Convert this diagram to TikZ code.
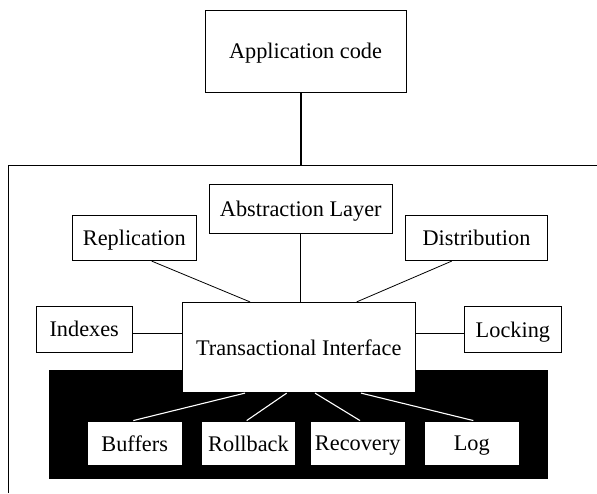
\documentclass[tikz,border=0pt]{standalone}
\usepackage{fontspec}
\setmainfont{Liberation Serif}
\begin{document}
\begin{tikzpicture}
  [x=1pt, y=-1pt,
   every node/.style={draw, fill=white, inner sep=2pt, line width=0.8pt,
                      text depth=0pt, font=\fontsize{22.3}{26}\selectfont},
   link/.style={line width=0.8pt},
   sublink/.style={white, line width=1.1pt}]
  \useasboundingbox (0,0) rectangle (597,493);
  % frame and core block
  \draw[link] (8.3,493) -- (8.3,165) -- (597,165);
  \fill[black] (49.3,370) rectangle (548,479.3);
  \coordinate (top) at (301,165);

  \node (app) [minimum width=201pt, minimum height=82pt] at (305.5,51) {Application code};
  \node (absl) [minimum width=183pt, minimum height=49.3pt] at (300.8,208.7) {Abstraction Layer};
  \node (repl) [minimum width=123.3pt, minimum height=45pt] at (134.3,238.2) {Replication};
  \node (distr) [minimum width=141.6pt, minimum height=45pt] at (476.5,238.2) {Distribution};
  \node (trans) [minimum width=232.7pt, minimum height=90.4pt] at (298.7,347.5) {Transactional Interface};
  \node (index) [minimum width=96.3pt, minimum height=46.3pt] at (84.2,329.2) {Indexes};
  \node (lock) [minimum width=96.3pt, minimum height=46pt] at (512.9,329.7) {Locking};
  \node (buf) [minimum width=94.7pt, minimum height=44.7pt] at (134.7,443.3) {Buffers};
  \node (rollb) [minimum width=94.4pt, minimum height=44.7pt] at (248.5,443.3) {Rollback};
  \node (recov) [minimum width=95.3pt, minimum height=44.7pt] at (357.7,443.3) {Recovery};
  \node (logn) [minimum width=95pt, minimum height=44.7pt] at (471.8,443.3) {Log};

  \draw[line width=2.8pt] (app.south -| top) -- (top);
  \draw[link] (absl.south) -- (absl.south |- trans.north);
  \draw[link] ([xshift=17.4pt]repl.south) -- ([xshift=-48.7pt]trans.north);
  \draw[link] ([xshift=-24.8pt]distr.south) -- ([xshift=58pt]trans.north);
  \draw[link] ([yshift=-4pt]index.east) -- ([yshift=-4pt]index.east -| trans.west);
  \draw[link] ([yshift=-3.6pt]lock.west) -- ([yshift=-3.6pt]lock.west -| trans.east);

  \draw[sublink] ([xshift=-53.7pt]trans.south) -- ([xshift=-1.4pt]buf.north);
  \draw[sublink] ([xshift=-12pt]trans.south) -- ([xshift=-1.8pt]rollb.north);
  \draw[sublink] ([xshift=16.3pt]trans.south) -- ([xshift=2.3pt]recov.north);
  \draw[sublink] ([xshift=62.3pt]trans.south) -- ([xshift=1.5pt]logn.north);
\end{tikzpicture}
\end{document}
